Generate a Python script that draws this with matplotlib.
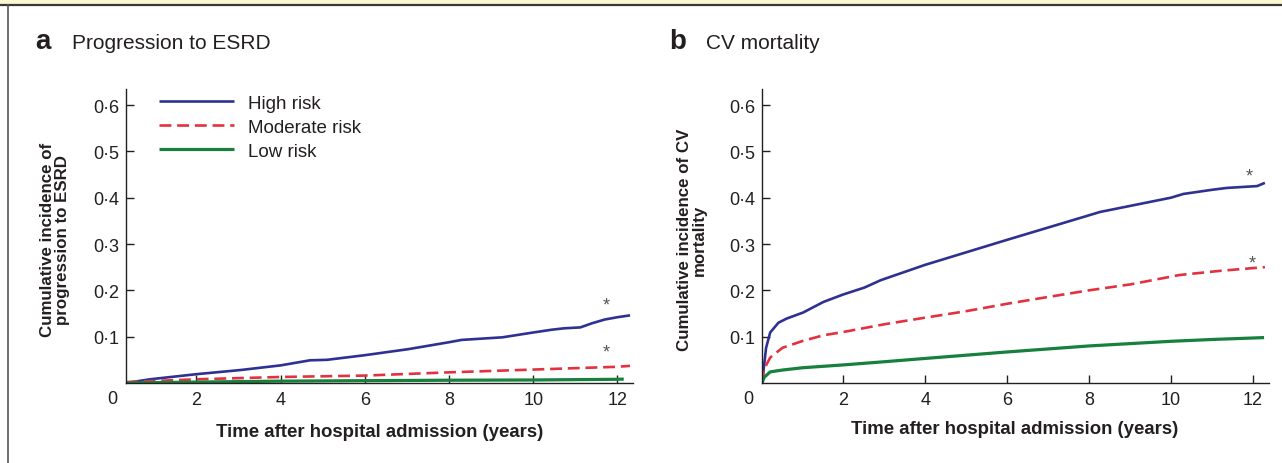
import matplotlib
matplotlib.use("Agg")
import matplotlib.pyplot as plt
from matplotlib.lines import Line2D

plt.rcParams['font.family'] = ['Liberation Sans', 'DejaVu Sans']

# ---------------- data ----------------
series_names = ["High risk", "Moderate risk", "Low risk"]

# Panel a: progression to ESRD
esrd_high_x = [0.33, 0.9, 2.0, 3.05, 4.0, 4.7, 5.1, 6.0, 7.03, 8.0, 8.3, 9.27, 10.0, 10.44, 10.73, 11.12, 11.4, 11.7, 12.0, 12.3]
esrd_high_y = [0.0, 0.008, 0.019, 0.028, 0.038, 0.049, 0.050, 0.060, 0.073, 0.088, 0.093, 0.0986, 0.109, 0.115, 0.118, 0.120, 0.129, 0.137, 0.142, 0.146]
esrd_mod_x = [0.33, 2.0, 4.0, 6.0, 8.0, 10.0, 12.0, 12.3]
esrd_mod_y = [0.002, 0.008, 0.013, 0.016, 0.023, 0.029, 0.035, 0.037]
esrd_low_x = [0.33, 2.0, 4.0, 6.0, 8.0, 10.0, 12.0, 12.15]
esrd_low_y = [0.0, 0.002, 0.004, 0.005, 0.006, 0.0065, 0.008, 0.0085]

# Panel b: CV mortality
cv_high_x = [0.02, 0.07, 0.12, 0.22, 0.42, 0.62, 1.02, 1.52, 2.0, 2.52, 2.92, 4.0, 6.0, 8.0, 8.26, 10.0, 10.3, 11.0, 11.36, 12.1, 12.29]
cv_high_y = [0.0, 0.037, 0.076, 0.109, 0.130, 0.139, 0.152, 0.175, 0.191, 0.206, 0.222, 0.255, 0.309, 0.362, 0.369, 0.400, 0.408, 0.417, 0.421, 0.425, 0.432]
cv_mod_x = [0.02, 0.07, 0.22, 0.52, 1.02, 1.52, 2.0, 3.02, 4.0, 5.0, 6.0, 7.02, 8.0, 9.02, 10.2, 11.19, 12.0, 12.29]
cv_mod_y = [0.0, 0.030, 0.055, 0.076, 0.091, 0.103, 0.110, 0.127, 0.141, 0.155, 0.171, 0.186, 0.200, 0.213, 0.233, 0.242, 0.248, 0.250]
cv_low_x = [0.02, 0.07, 0.22, 0.52, 1.02, 2.0, 3.02, 4.0, 6.0, 8.0, 10.0, 11.02, 12.27]
cv_low_y = [0.0, 0.012, 0.024, 0.028, 0.033, 0.039, 0.046, 0.053, 0.067, 0.080, 0.090, 0.094, 0.098]

x_ticks = [2, 4, 6, 8, 10, 12]
y_ticks = [0.1, 0.2, 0.3, 0.4, 0.5, 0.6]
y_tick_labels = ["0·1", "0·2", "0·3", "0·4", "0·5", "0·6"]

# star markers (significance), per panel: (x, y)
stars_a = [(11.73, 0.168), (11.73, 0.066)]
stars_b = [(11.92, 0.446), (11.97, 0.258)]

# ---------------- style ----------------
C_HIGH = "#2e3192"
C_MOD = "#e2323f"
C_LOW = "#16803c"
LW = 1.9
DASH = (4.5, 2.2)
TXT = "#231f20"

W, H = 1282, 464
fig = plt.figure(figsize=(W / 100, H / 100), dpi=100)

# frame decorations
fig.patches.append(plt.Rectangle((0, 1 - 5 / H), 1, 5 / H, transform=fig.transFigure,
                                 facecolor="#fdf6d3", edgecolor="none", zorder=0))
fig.lines.append(Line2D([0, 1], [1 - 5.5 / H] * 2, transform=fig.transFigure, color="#3a3a3a", lw=1.6))
fig.lines.append(Line2D([7.5 / W] * 2, [0, 1 - 5.5 / H], transform=fig.transFigure, color="#555555", lw=1.2))


def make_axes(left_px, right_px, xlim):
    ax = fig.add_axes([left_px / W, 1 - 384 / H, (right_px - left_px) / W, (384 - 90) / H])
    ax.set_xlim(*xlim)
    ax.set_ylim(0, 0.6 + 16 / 463.3)
    for s in ["top", "right"]:
        ax.spines[s].set_visible(False)
    for s in ["left", "bottom"]:
        ax.spines[s].set_linewidth(1.0)
        ax.spines[s].set_color(TXT)
    ax.set_xticks(x_ticks)
    ax.set_xticklabels([str(t) for t in x_ticks])
    ax.set_yticks(y_ticks)
    ax.set_yticklabels(y_tick_labels)
    ax.tick_params(direction="in", length=6, width=1.0, colors=TXT, labelsize=13, pad=5)
    ax.tick_params(axis="x", pad=6)
    # corner "0" label
    ax.annotate("0", xy=(0, 0), xycoords="axes fraction", xytext=(-14, -7),
                textcoords="offset pixels", ha="center", va="top", fontsize=13, color=TXT)
    return ax


axa = make_axes(126, 633, (0.33, 12.37))
axb = make_axes(762, 1269, (0.02, 12.39))

# Panel a lines
axa.plot(esrd_high_x, esrd_high_y, color=C_HIGH, lw=LW, label=series_names[0], solid_capstyle="butt")
axa.plot(esrd_mod_x, esrd_mod_y, color=C_MOD, lw=LW, ls=(0, DASH), label=series_names[1])
axa.plot(esrd_low_x, esrd_low_y, color=C_LOW, lw=LW + 0.4, label=series_names[2], solid_capstyle="butt")

# Panel b lines
axb.plot(cv_high_x, cv_high_y, color=C_HIGH, lw=LW, solid_capstyle="butt")
axb.plot(cv_mod_x, cv_mod_y, color=C_MOD, lw=LW, ls=(0, DASH))
axb.plot(cv_low_x, cv_low_y, color=C_LOW, lw=LW + 0.4, solid_capstyle="butt")

for ax, stars in ((axa, stars_a), (axb, stars_b)):
    for sx, sy in stars:
        ax.text(sx, sy, "*", ha="center", va="center", fontsize=13, color="#555555")

leg = axa.legend(loc="upper left", bbox_to_anchor=(0.04, 1.025), frameon=False, fontsize=13.5,
                 handlelength=4.0, handletextpad=0.7, labelspacing=0.37, borderpad=0.2)
for t in leg.get_texts():
    t.set_color(TXT)

# titles
fig.text(35 / W, 1 - 49 / H, "a", fontsize=20, fontweight="bold", color=TXT, va="baseline")
fig.text(72 / W, 1 - 49 / H, "Progression to ESRD", fontsize=15, color=TXT, va="baseline")
fig.text(669 / W, 1 - 49 / H, "b", fontsize=20, fontweight="bold", color=TXT, va="baseline")
fig.text(706 / W, 1 - 49 / H, "CV mortality", fontsize=15, color=TXT, va="baseline")

# y labels
fig.text(55 / W, 1 - 240 / H, "Cumulative incidence of\nprogression to ESRD", rotation=90,
         ha="center", va="center", fontsize=12.2, fontweight="bold", color=TXT, linespacing=1.05)
fig.text(692 / W, 1 - 240 / H, "Cumulative incidence of CV\nmortality", rotation=90,
         ha="center", va="center", fontsize=12.2, fontweight="bold", color=TXT, linespacing=1.05)

# x labels
fig.text(380 / W, 1 - 433 / H, "Time after hospital admission (years)", ha="center", va="center",
         fontsize=13.4, fontweight="bold", color=TXT)
fig.text(1015 / W, 1 - 430 / H, "Time after hospital admission (years)", ha="center", va="center",
         fontsize=13.4, fontweight="bold", color=TXT)

fig.savefig("out.png", dpi=100)
